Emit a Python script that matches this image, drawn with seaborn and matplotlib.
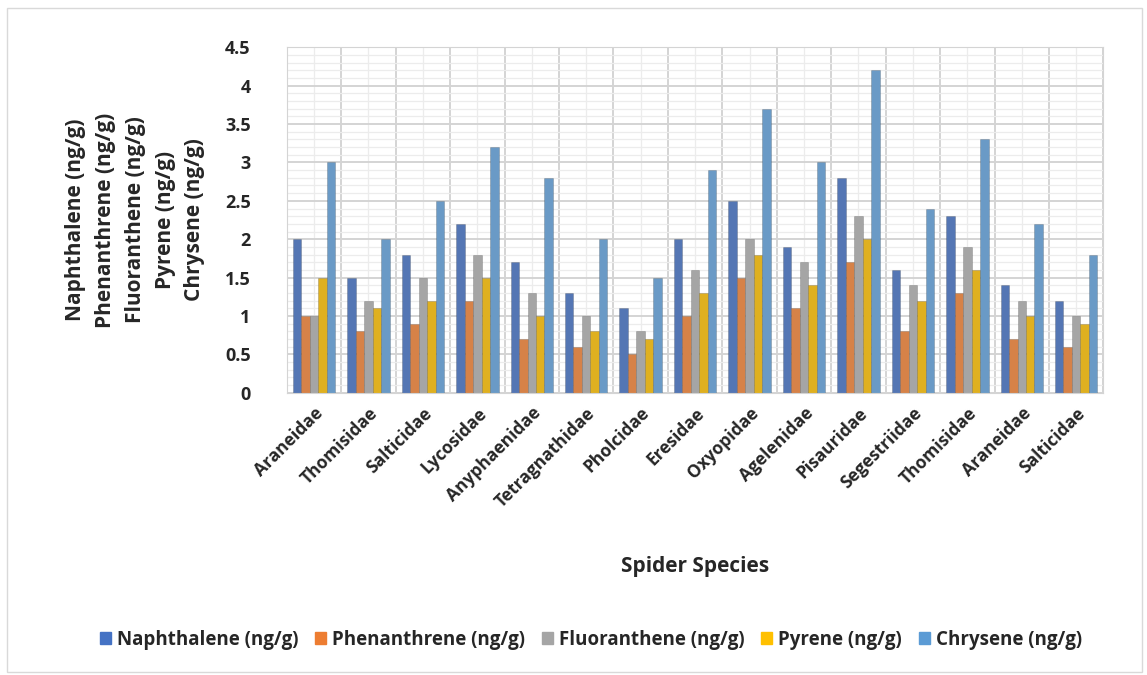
import pandas as pd
import numpy as np
import matplotlib.pyplot as plt
import seaborn as sns
from matplotlib.ticker import MultipleLocator, FixedLocator
from matplotlib.patches import Rectangle

species = ["Araneidae", "Thomisidae", "Salticidae", "Lycosidae", "Anyphaenidae",
           "Tetragnathidae", "Pholcidae", "Eresidae", "Oxyopidae", "Agelenidae",
           "Pisauridae", "Segestriidae", "Thomisidae", "Araneidae", "Salticidae"]
naphthalene = [2.0, 1.5, 1.8, 2.2, 1.7, 1.3, 1.1, 2.0, 2.5, 1.9, 2.8, 1.6, 2.3, 1.4, 1.2]
phenanthrene = [1.0, 0.8, 0.9, 1.2, 0.7, 0.6, 0.5, 1.0, 1.5, 1.1, 1.7, 0.8, 1.3, 0.7, 0.6]
fluoranthene = [1.0, 1.2, 1.5, 1.8, 1.3, 1.0, 0.8, 1.6, 2.0, 1.7, 2.3, 1.4, 1.9, 1.2, 1.0]
pyrene = [1.5, 1.1, 1.2, 1.5, 1.0, 0.8, 0.7, 1.3, 1.8, 1.4, 2.0, 1.2, 1.6, 1.0, 0.9]
chrysene = [3.0, 2.0, 2.5, 3.2, 2.8, 2.0, 1.5, 2.9, 3.7, 3.0, 4.2, 2.4, 3.3, 2.2, 1.8]

series_names = ["Naphthalene (ng/g)", "Phenanthrene (ng/g)", "Fluoranthene (ng/g)",
                "Pyrene (ng/g)", "Chrysene (ng/g)"]
colors = ["#4472C4", "#ED7D31", "#A5A5A5", "#FFC000", "#5B9BD5"]

# long table, slot index keeps the duplicated family names apart
rows = []
for name, vals in zip(series_names, [naphthalene, phenanthrene, fluoranthene, pyrene, chrysene]):
    for i, v in enumerate(vals):
        rows.append({"slot": i, "compound": name, "value": v})
df = pd.DataFrame(rows)

sns.set_style("white")
plt.rcParams['font.family'] = ['Open Sans', 'DejaVu Sans']
plt.rcParams['font.weight'] = 'bold'
plt.rcParams['axes.labelweight'] = 'bold'

fig = plt.figure(figsize=(11.47, 6.75), dpi=100)
ax = fig.add_axes([0.25, 0.418, 0.712, 0.512])

sns.barplot(data=df, x="slot", y="value", hue="compound", hue_order=series_names,
            palette=colors, width=0.78, ax=ax, legend=True,
            edgecolor="#00000030", linewidth=0.6)

ax.set_ylim(0, 4.5)
ax.set_xlim(-0.5, len(species) - 0.5)
ax.yaxis.set_minor_locator(MultipleLocator(0.1))
ax.xaxis.set_minor_locator(FixedLocator(np.arange(-0.5, len(species), 1.0)))
ax.set_yticks(np.arange(0, 4.51, 0.5))
ax.set_yticklabels(["0", "0.5", "1", "1.5", "2", "2.5", "3", "3.5", "4", "4.5"])
ax.grid(which="major", axis="y", color="#d4d4d4", linewidth=1.4)
ax.grid(which="minor", axis="y", color="#ececec", linewidth=0.9)
ax.grid(which="minor", axis="x", color="#d4d4d4", linewidth=1.4)
ax.grid(which="major", axis="x", color="#ececec", linewidth=0.9)
ax.set_axisbelow(True)
for s in ax.spines.values():
    s.set_color("#d4d4d4")
ax.tick_params(which="both", length=0)
ax.tick_params(axis="y", labelsize=13, pad=26)

ax.set_xticks(range(len(species)))
ax.set_xticklabels(species, rotation=45, ha="right", rotation_mode="anchor", fontsize=12.5)
ax.tick_params(axis="x", pad=8)

ax.set_xlabel("Spider Species", fontsize=15, fontweight="bold", labelpad=33)
ax.set_ylabel("\n".join(series_names), fontsize=15, fontweight="bold",
              linespacing=1.55, labelpad=14, ha="center")

ax.get_legend().remove()
handles = [Rectangle((0, 0), 1, 1, color=c) for c in colors]
fig.legend(handles, series_names, loc="center", bbox_to_anchor=(0.515, 0.052),
           ncol=5, frameon=False, fontsize=13.5, handlelength=0.6, handleheight=0.6,
           handletextpad=0.3, columnspacing=0.9)

# light outline of the chart area
fig.add_artist(Rectangle((0.006, 0.005), 0.99, 0.983, transform=fig.transFigure,
                         fill=False, edgecolor="#d9d9d9", linewidth=1))

plt.savefig("out.png", dpi=100)
plt.close()
